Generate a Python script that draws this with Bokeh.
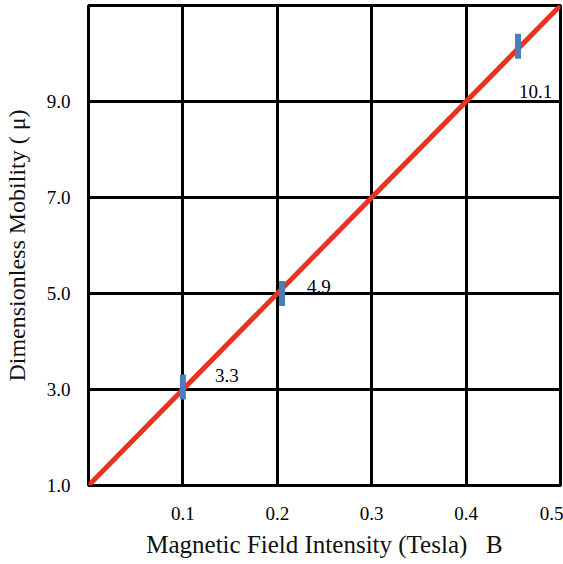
from bokeh.plotting import figure
from bokeh.models import FixedTicker, NumeralTickFormatter, ColumnDataSource, Range1d
from bokeh.core.properties import value
from bokeh.embed import file_html
from bokeh.resources import INLINE

# ---- data ----
x_ticks = [0.1, 0.2, 0.3, 0.4, 0.5]
y_ticks = [1.0, 3.0, 5.0, 7.0, 9.0]
line_x = [0.0, 0.5]
line_y = [1.0, 11.0]
marker_x = [0.1, 0.205, 0.455]
marker_y = [3.05, 5.0, 10.15]
marker_labels = ["3.3", "4.9", "10.1"]

# label offsets (screen px) relative to markers
label_dx = [32, 25, 1]
label_dy = [-12, -7, 45]

FONT = "Liberation Serif"

p = figure(width=563, height=564, output_backend="svg", toolbar_location=None,
           x_range=Range1d(0.0, 0.5), y_range=Range1d(1.0, 11.0),
           min_border_left=86, min_border_right=3, min_border_top=5, min_border_bottom=79)

p.background_fill_color = "white"
p.border_fill_color = "white"
p.outline_line_color = "black"
p.outline_line_width = 3

for ax in (p.xaxis[0], p.yaxis[0]):
    ax.axis_line_color = None
    ax.major_tick_line_color = None
    ax.minor_tick_line_color = None
    ax.major_label_text_font = FONT
    ax.major_label_text_font_size = "19px"
    ax.major_label_text_color = "black"
    ax.axis_label_text_font = FONT
    ax.axis_label_text_font_style = "normal"
    ax.axis_label_text_color = "#111111"
    ax.formatter = NumeralTickFormatter(format="0.0")

p.xaxis.axis_label_text_font_size = "25px"
p.yaxis.axis_label_text_font_size = "24px"

p.xaxis.ticker = FixedTicker(ticks=x_ticks)
p.yaxis.ticker = FixedTicker(ticks=y_ticks)
p.xaxis.axis_label = "Magnetic Field Intensity (Tesla)\u00a0\u00a0\u00a0B"
p.yaxis.axis_label = "Dimensionless Mobility ( \u03bc)"
p.xaxis.major_label_standoff = 15
p.xaxis.axis_label_standoff = 8
p.yaxis.major_label_standoff = 12
p.yaxis.axis_label_standoff = 14

p.xgrid.ticker = FixedTicker(ticks=x_ticks)
p.ygrid.ticker = FixedTicker(ticks=y_ticks)
for g in (p.xgrid[0], p.ygrid[0]):
    g.grid_line_color = "black"
    g.grid_line_width = 3
    g.grid_line_alpha = 1.0

p.line(line_x, line_y, line_color="#e63324", line_width=5)

p.rect(marker_x, marker_y, width=6, height=25, width_units="screen", height_units="screen",
       fill_color="#4a7ebb", line_color=None)

src = ColumnDataSource(dict(x=marker_x, y=marker_y, t=marker_labels, dx=label_dx, dy=label_dy))
p.text(x="x", y="y", text="t", x_offset="dx", y_offset="dy", source=src,
       text_font=value(FONT), text_font_size="19px", text_color="black",
       text_baseline="middle", text_align="left")

open("out.html", "w").write(file_html(p, INLINE))
